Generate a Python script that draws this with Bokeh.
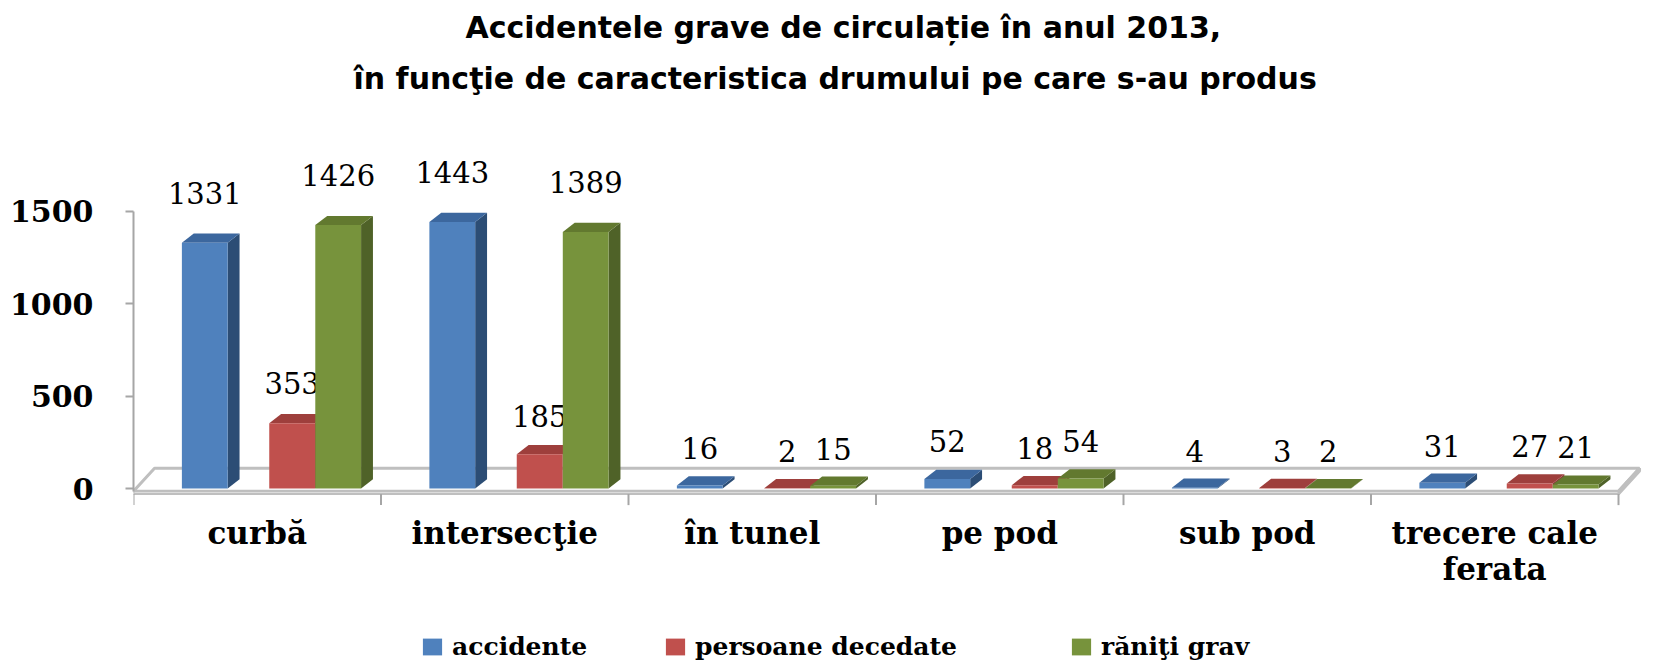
from bokeh.plotting import figure
from bokeh.models import FixedTicker, Legend, LegendItem, Title, Range1d, ColumnDataSource
from bokeh.core.properties import value
from bokeh.embed import file_html
from bokeh.resources import INLINE

# ---------------- data ----------------
categories = ["curbă", "intersecţie", "în tunel", "pe pod", "sub pod", "trecere cale\nferata"]
series_names = ["accidente", "persoane decedate", "răniţi grav"]
accidente = [1331, 1443, 16, 52, 4, 31]
persoane_decedate = [353, 185, 2, 18, 3, 27]
raniti_grav = [1426, 1389, 15, 54, 2, 21]
y_ticks = [0, 500, 1000, 1500]
title_lines = ["Accidentele grave de circulație în anul 2013,",
               "în funcţie de caracteristica drumului pe care s-au produs"]

# ---------------- styling / geometry ----------------
W, H = 1654, 667
LEFT = 133
TOP = 130
ZERO_PX = 488          # screen row of value 0
PX_Y = 0.1847          # pixels per unit
PX_X = 247.5           # pixels per category
X_END = (W - LEFT) / PX_X
Y_START = -(H - ZERO_PX) / PX_Y
Y_END = (ZERO_PX - TOP) / PX_Y

front_cols = ["#4F81BD", "#C0504D", "#77933C"]
side_cols = ["#2C4D75", "#8C3836", "#4F6228"]
top_cols = ["#3C679E", "#9E3F3C", "#62792F"]
offsets = [0.288, 0.641, 0.827]
BW = 0.185
DX, DY = 0.048, 50
SERIF = "DejaVu Serif"
SANS = "DejaVu Sans"
legend_x = [287, 530, 936]

p = figure(width=W, height=H, output_backend="svg", toolbar_location=None,
           x_range=Range1d(0, X_END), y_range=Range1d(Y_START, Y_END),
           min_border_left=LEFT, min_border_right=0, min_border_top=TOP,
           min_border_bottom=0, title=None)
p.outline_line_color = None
p.grid.visible = False
p.background_fill_color = "white"
p.border_fill_color = "white"
p.xaxis.visible = False

# title (the one added first sits nearest the frame)
p.add_layout(Title(text=title_lines[1], align="left", offset=220,
                   text_font=SANS, text_font_size="30px", text_font_style="bold",
                   text_color="black", standoff=69), "above")
p.add_layout(Title(text=title_lines[0], align="left", offset=332,
                   text_font=SANS, text_font_size="30px", text_font_style="bold",
                   text_color="black", standoff=-40), "above")

# floor
n = len(categories)
F0 = -15
FD_X, FD_Y = 0.085, 125
p.patch([0, n, n + FD_X, FD_X], [F0, F0, F0 + FD_Y, F0 + FD_Y],
        fill_color="white", line_color="#BFBFBF", line_width=3)
p.patch([n, n + FD_X, n + FD_X, n], [F0 - 15, F0 - 15 + FD_Y, F0 + FD_Y, F0],
        fill_color="white", line_color="#BFBFBF", line_width=3)
p.patch([0, n, n, 0], [F0 - 15, F0 - 15, F0, F0],
        fill_color="#E6E6E6", line_color="#BFBFBF", line_width=2)

# category ticks and labels
tick_x = list(range(n + 1))
p.segment(x0=tick_x, y0=[F0 - 15] * (n + 1), x1=tick_x, y1=[F0 - 75] * (n + 1),
          line_color="#A6A6A6", line_width=2)
p.text(x=[i + 0.5 for i in range(n)], y=[-144] * n, text=categories,
       text_align="center", text_baseline="top", text_font=value(SERIF),
       text_font_style="bold", text_font_size="31px", text_color="black",
       text_line_height=1.0)

# bars
bar_renderers = []
for s, vals in enumerate([accidente, persoane_decedate, raniti_grav]):
    lefts = [i + offsets[s] - BW / 2 for i in range(n)]
    rights = [i + offsets[s] + BW / 2 for i in range(n)]
    side_xs = [[r, r + DX, r + DX, r] for r in rights]
    side_ys = [[0, DY, v + DY, v] for v in vals]
    top_xs = [[l, r, r + DX, l + DX] for l, r in zip(lefts, rights)]
    top_ys = [[v, v, v + DY, v + DY] for v in vals]
    p.patches(side_xs, side_ys, fill_color=side_cols[s], line_color=None)
    p.patches(top_xs, top_ys, fill_color=top_cols[s], line_color=None)
    fr = p.quad(left=lefts, right=rights, bottom=[0] * n, top=vals,
                fill_color=front_cols[s], line_color=None)
    bar_renderers.append(fr)
    src = ColumnDataSource(dict(x=[i + offsets[s] for i in range(n)],
                                y=[v * 1.05 + 200 for v in vals],
                                t=[str(v) for v in vals]))
    p.text(x="x", y="y", text="t", source=src, text_align="center",
           text_baseline="alphabetic", text_font=value(SERIF),
           text_font_size="29px", text_color="black")

# y axis
ya = p.yaxis[0]
ya.ticker = FixedTicker(ticks=y_ticks)
ya.bounds = (F0, 1500)
ya.axis_line_color = "#A6A6A6"
ya.axis_line_width = 2
ya.major_tick_line_color = "#A6A6A6"
ya.major_tick_line_width = 2
ya.major_tick_out = 8
ya.major_tick_in = 0
ya.minor_tick_line_color = None
ya.major_label_standoff = 32
ya.major_label_text_font = SERIF
ya.major_label_text_font_style = "bold"
ya.major_label_text_font_size = "30px"
ya.major_label_text_color = "black"

# legend: one entry per series, each placed where the reference shows it
for s, name in enumerate(series_names):
    lg = Legend(items=[LegendItem(label=name, renderers=[bar_renderers[s]])],
                orientation="horizontal", location=(legend_x[s], 6),
                glyph_width=24, glyph_height=21, label_standoff=8,
                label_text_font=SERIF, label_text_font_style="bold",
                label_text_font_size="25px", label_text_color="black",
                border_line_color=None, background_fill_alpha=0, margin=0, padding=0)
    p.add_layout(lg)

open("out.html", "w").write(file_html(p, INLINE))
